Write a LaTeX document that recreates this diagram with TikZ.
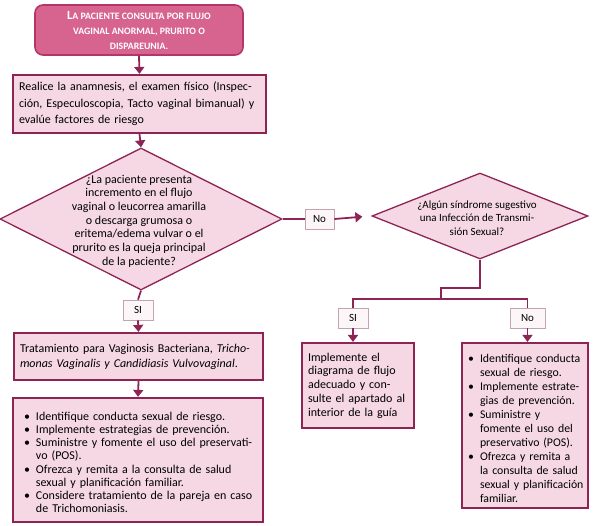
\documentclass[tikz,border=0pt]{standalone}
\usepackage{fontspec}
\setmainfont{Carlito}
\usepackage{tikz}
\usepackage{xcolor}
\usetikzlibrary{shapes.geometric,arrows.meta}
\definecolor{highlightcolorc}{HTML}{8E2356}
\definecolor{startcolorc}{HTML}{D6648E}
\definecolor{startedgec}{HTML}{B5356A}
\definecolor{tagedgec}{HTML}{C4A3B1}
\colorlet{washedcolorc}{startcolorc!25!white}
\colorlet{tagfillc}{startcolorc!6!white}
\colorlet{highlightcolor}{highlightcolorc}
\colorlet{washedcolor}{washedcolorc}
\colorlet{tagfill}{tagfillc}
\colorlet{tagedge}{tagedgec}
\newcommand{\bul}{\par\noindent\llap{\textbullet\hspace{6pt}}}% bullet item
\newcommand{\firstcap}{\fontsize{12.5}{15}\selectfont}
\tikzstyle{startbox} =[
    rectangle,
    rounded corners=8pt,
    draw=startedgec,
    fill=startcolorc,
    line width=1.6pt,
    text=white,
    align=center,
    font=\bfseries\fontsize{9.8}{15}\selectfont
    ]
\tikzstyle{stepbox} =[
    draw=highlightcolor,
    fill=washedcolor,
    line width=2.2pt,
    rectangle,
    inner xsep=6pt,
    align=left,
    font=\fontsize{12}{16.5}\selectfont
    ]
\tikzstyle{question} =[
    diamond,
    draw=highlightcolor,
    fill=washedcolor,
    line width=1.3pt,
    inner sep=0pt
    ]
\tikzstyle{qtext} =[
    align=center,
    font=\fontsize{12}{13.7}\selectfont
    ]
\tikzstyle{tag} =[
    draw=tagedge,
    fill=tagfill,
    line width=0.8pt,
    minimum height=20pt,
    font=\fontsize{11}{12}\selectfont
    ]
\tikzstyle{flow} =[
    draw=highlightcolor,
    line width=1.8pt
    ]
\tikzstyle{flowarrow} =[
    flow,
    -{Triangle[width=10pt,length=7pt]}
    ]

\begin{document}
\begin{tikzpicture}[x=1pt,y=-1pt]
\useasboundingbox (0,0) rectangle (593,526);
% left branch
\node [startbox, minimum width=208pt, minimum height=50pt] (start) at (139,30) {%
    {\firstcap L}A PACIENTE CONSULTA POR FLUJO\\
    VAGINAL ANORMAL, PRURITO O\\
    DISPAREUNIA.};
\node [stepbox, text width=241pt, minimum height=58pt] (anam) at (139.5,104) {%
    Realice la anamnesis, el examen físico (Inspec-\\
    ción, Especuloscopia, Tacto vaginal bimanual) y\\
    evalúe factores de riesgo};
\node [question, minimum width=282pt, minimum height=142pt] (q1) at (141,219) {};
\node [qtext] (q1text) at (139,221) {%
    ¿La paciente presenta\\
    incremento en el flujo\\
    vaginal o leucorrea amarilla\\
    o descarga grumosa o\\
    eritema/edema vulvar o el\\
    prurito es la queja principal\\
    de la paciente?};
\node [tag, minimum width=30pt] (si1) at (138,310) {SI};
\node [stepbox, text width=237pt, minimum height=47pt, font=\fontsize{12}{15}\selectfont] (trat) at (138.5,356.5) {%
    Tratamiento para Vaginosis Bacteriana, \textit{Tricho-}\\
    \textit{monas Vaginalis y Candidiasis Vulvovaginal}.};
\node [stepbox, text width=238pt, minimum height=124pt, font=\fontsize{12}{13.1}\selectfont] (prev) at (138,460) {%
    \leftskip=17pt
    \bul Identifique conducta sexual de riesgo.
    \bul Implemente estrategias de prevención.
    \bul Suministre y fomente el uso del preservati-\\vo (POS).
    \bul Ofrezca y remita a la consulta de salud\\sexual y planificación familiar.
    \bul Considere tratamiento de la pareja en caso\\de Trichomoniasis.\par};
% right branch
\node [tag, minimum width=29pt] (no1) at (319.5,219) {No};
\node [question, minimum width=216pt, minimum height=86pt] (q2) at (480,216) {};
\node [qtext, font=\fontsize{11}{13.5}\selectfont] (q2text) at (477,218) {%
    ¿Algún síndrome sugestivo\\
    una Infección de Transmi-\\
    sión Sexual?};
\coordinate (jog) at (441,288);
\coordinate (split) at (441,299);
\node [tag, minimum width=30pt] (si2) at (353,318) {SI};
\node [tag, minimum width=35pt] (no2) at (527.5,318) {No};
\node [stepbox, text width=100pt, minimum height=85pt, font=\fontsize{12}{13.8}\selectfont] (guia) at (358,385.5) {%
    Implemente el\\
    diagrama de flujo\\
    adecuado y con-\\
    sulte el apartado al\\
    interior de la guía};
\node [stepbox, inner xsep=2pt, text width=122pt, minimum height=165pt, font=\fontsize{11.8}{14}\selectfont] (prev2) at (525,425.5) {%
    \leftskip=16pt
    \bul Identifique conducta\\sexual de riesgo.
    \bul Implemente estrate-\\gias de prevención.
    \bul Suministre y\\fomente el uso del\\preservativo (POS).
    \bul Ofrezca y remita a\\la consulta de salud\\sexual y planificación\\familiar.\par};
% connectors
\draw [flowarrow] (start.south) -- (anam.north);
\draw [flowarrow] (anam.south) -- (q1.north);
\draw [flow] (q1.south) -- (si1.north);
\draw [flowarrow] (si1.south) -- (trat.north);
\draw [flowarrow] (trat.south) -- (prev.north);
\draw [flow] (q1.east) -- (no1.west);
\draw [flowarrow, shorten >=9pt] (no1.east) -- (q2.west);
\draw [flow] (q2.south) |- (jog) -- (split);
\draw [flow] (si2.north) |- (split) -| (no2.north);
\draw [flowarrow] (si2.south) -- (si2.south |- guia.north);
\draw [flowarrow] (no2.south) -- (no2.south |- prev2.north);
\end{tikzpicture}
\end{document}
